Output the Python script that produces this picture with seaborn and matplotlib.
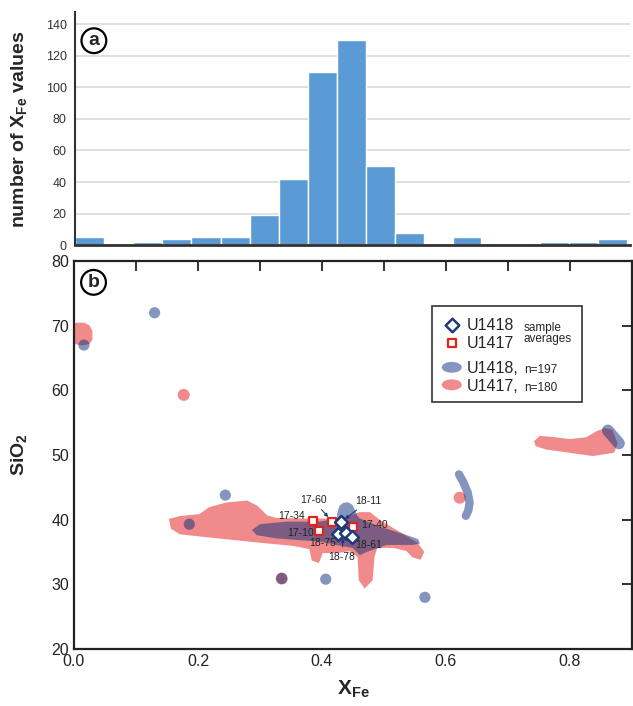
# XFe histogram (a) and SiO2 vs XFe density blobs (b)
import numpy as np
import pandas as pd
import seaborn as sns
import matplotlib.pyplot as plt
from matplotlib.patches import Rectangle, Ellipse

# ---- data ----
# (a) histogram of XFe values
bin_edges = [0.000, 0.047, 0.094, 0.141, 0.188, 0.236, 0.283, 0.330, 0.377, 0.424,
             0.471, 0.518, 0.565, 0.612, 0.659, 0.707, 0.754, 0.801, 0.848, 0.895]
bin_counts = [5, 0, 2, 4, 5, 5, 19, 42, 110, 130, 50, 8, 0, 5, 0, 0, 2, 2, 4]

# (b) outlines of the density fields (XFe, SiO2)
red_main_x = [0.155, 0.171, 0.203, 0.219, 0.246, 0.279, 0.295, 0.311, 0.327, 0.380, 0.418,
              0.440, 0.461, 0.477, 0.494, 0.526, 0.553, 0.563, 0.558, 0.547, 0.537, 0.515,
              0.488, 0.483, 0.480, 0.469, 0.461, 0.459, 0.445, 0.424, 0.400, 0.394, 0.385,
              0.381, 0.354, 0.300, 0.219, 0.171, 0.158]
red_main_y = [40.0, 40.4, 40.7, 41.8, 42.5, 42.8, 42.0, 40.5, 40.1, 40.0, 40.0,
              40.3, 41.0, 41.0, 39.7, 37.9, 36.3, 35.0, 34.0, 34.3, 35.3, 35.8,
              35.8, 34.3, 30.7, 29.6, 30.7, 34.3, 35.3, 35.0, 35.0, 33.5, 33.8,
              35.6, 36.1, 36.6, 37.4, 37.9, 38.7]
red_left_x = [-0.004, 0.004, 0.016, 0.024, 0.028, 0.028, 0.024, 0.013, 0.003, -0.004]
red_left_y = [69.9, 70.3, 70.3, 69.9, 69.1, 67.9, 67.3, 67.1, 67.3, 68.0]
red_right_x = [0.752, 0.775, 0.800, 0.827, 0.843, 0.856, 0.867, 0.875, 0.870, 0.837,
               0.800, 0.762, 0.746, 0.744]
red_right_y = [52.8, 52.6, 52.3, 52.6, 53.5, 54.0, 53.8, 51.8, 50.5, 50.0,
               50.5, 51.0, 51.5, 52.1]
blue_main_x = [0.287, 0.300, 0.343, 0.397, 0.424, 0.425, 0.428, 0.434, 0.442, 0.449,
               0.453, 0.457, 0.461, 0.494, 0.537, 0.555, 0.558, 0.547, 0.504, 0.472,
               0.461, 0.450, 0.397, 0.327, 0.295]
blue_main_y = [38.4, 39.3, 39.7, 39.7, 40.2, 41.2, 42.1, 42.6, 42.7, 42.3,
               41.5, 40.6, 40.2, 38.9, 37.6, 37.0, 36.3, 36.1, 36.1, 35.0,
               34.5, 35.6, 36.6, 37.1, 37.6]
blue_arc_x = [0.621, 0.628, 0.635, 0.638, 0.636, 0.632]
blue_arc_y = [47.0, 45.8, 44.2, 42.6, 41.4, 40.6]
blue_end_x = [0.861, 0.879]
blue_end_y = [53.8, 51.8]

# isolated analyses
red_dots_x = [0.177, 0.622, 0.335]
red_dots_y = [59.3, 43.4, 30.9]
blue_dots_x = [0.130, 0.244, 0.406, 0.566, 0.016, 0.186, 0.335]
blue_dots_y = [72.0, 43.8, 30.8, 28.0, 67.0, 39.3, 30.9]

# sample averages
u1417_names = ['17-34', '17-60', '17-10', '17-40']
u1417_x = [0.385, 0.416, 0.395, 0.450]
u1417_y = [39.8, 39.6, 38.3, 38.8]
u1418_names = ['18-11', '18-75', '18-78', '18-61']
u1418_x = [0.430, 0.426, 0.439, 0.449]
u1418_y = [39.6, 37.8, 38.0, 37.3]

# label layout: text position, and arrow tip (None = plain label)
label_layout = {
    '17-34': ((0.351, 40.5), None),
    '17-60': ((0.386, 43.0), (0.410, 40.4)),
    '17-10': ((0.365, 37.9), None),
    '17-40': ((0.484, 39.2), None),
    '18-11': ((0.475, 42.9), (0.437, 40.1)),
    '18-75': ((0.401, 36.4), None),
    '18-78': ((0.432, 34.3), (0.434, 37.1)),
    '18-61': ((0.476, 36.1), None),
}

# ---- style ----
sns.set_style("white")
plt.rcParams['font.family'] = ['Liberation Sans', 'DejaVu Sans']
plt.rcParams['mathtext.fontset'] = 'custom'
plt.rcParams['mathtext.rm'] = 'Liberation Sans'
plt.rcParams['mathtext.bf'] = 'Liberation Sans:bold'

BAR = '#5B9BD5'
RED = '#F18A8A'
BLUE = '#0A2F80'
BLUE_A = 0.5
RED_EDGE = '#E3221C'
NAVY = '#1F3A7A'

fig = plt.figure(figsize=(6.33, 7.06), dpi=100)
ax1 = fig.add_axes([0.1185, 0.6526, 0.877, 0.330])
ax2 = fig.add_axes([0.1169, 0.0807, 0.8815, 0.5496])

# ---- (a) histogram ----
centers = [(a + b) / 2 for a, b in zip(bin_edges[:-1], bin_edges[1:])]
sns.histplot(x=centers, weights=bin_counts, bins=bin_edges, ax=ax1,
             color=BAR, edgecolor='white', linewidth=1, alpha=1)
ax1.set_xlim(0, 0.9)
ax1.set_ylim(0, 147.5)
ax1.set_yticks(range(0, 141, 20))
ax1.set_xticks(np.arange(0.1, 0.85, 0.1))
ax1.set_xticklabels([])
ax1.tick_params(axis='x', direction='in', length=5, width=1.2, color='#333')
ax1.tick_params(axis='y', direction='out', length=4, width=1, color='#777',
                labelsize=9, labelcolor='#333', pad=2)
ax1.grid(axis='y', color='#d9d9d9', lw=1.2)
ax1.set_axisbelow(True)
for s in ['top', 'right']:
    ax1.spines[s].set_visible(False)
ax1.spines['left'].set_linewidth(1.5)
ax1.spines['left'].set_color('#333')
ax1.spines['bottom'].set_linewidth(2)
ax1.spines['bottom'].set_color('#333')
ax1.set_xlabel('')
ax1.set_ylabel('number of X$_{\\mathbf{Fe}}$ values', fontsize=14, fontweight='bold')
ax1.yaxis.set_label_coords(-0.081, 0.5)
ax1.text(0.034, 0.878, 'a', transform=ax1.transAxes, fontsize=14, fontweight='bold',
         ha='center', va='center',
         bbox=dict(boxstyle='circle,pad=0.2', fc='white', ec='black', lw=1.6))

# ---- (b) SiO2 vs XFe ----
ax2.fill(red_main_x, red_main_y, color=RED, lw=1.5, zorder=1)
ax2.fill(red_left_x, red_left_y, color=RED, lw=1.5, zorder=1)
ax2.fill(red_right_x, red_right_y, color=RED, lw=1.5, zorder=1)
sns.scatterplot(x=red_dots_x, y=red_dots_y, ax=ax2, s=75, color=RED,
                edgecolor='none', linewidth=0, zorder=1)

ax2.fill(blue_main_x, blue_main_y, color=BLUE, alpha=BLUE_A, lw=0, zorder=2)
ax2.plot(blue_arc_x, blue_arc_y, color=BLUE, alpha=BLUE_A, lw=6,
         solid_capstyle='round', solid_joinstyle='round', zorder=2)
ax2.plot(blue_end_x, blue_end_y, color=BLUE, alpha=BLUE_A, lw=8.5,
         solid_capstyle='round', zorder=2)
sns.scatterplot(x=blue_dots_x, y=blue_dots_y, ax=ax2, s=65, color=BLUE,
                alpha=BLUE_A, edgecolor='none', linewidth=0, zorder=2)

# sample averages
sns.scatterplot(x=u1417_x, y=u1417_y, ax=ax2, marker='s', s=34, color='white',
                edgecolor=RED_EDGE, linewidth=1.6, zorder=5)
sns.scatterplot(x=u1418_x, y=u1418_y, ax=ax2, marker='D', s=44, color='white',
                edgecolor=NAVY, linewidth=1.8, zorder=5)

for name in u1417_names + u1418_names:
    (tx, ty), tip = label_layout[name]
    if tip is None:
        ax2.text(tx, ty, name, fontsize=7.5, color='#222', ha='center', va='center', zorder=6)
    else:
        ax2.annotate(name, xy=tip, xytext=(tx, ty), fontsize=7.5, color='#222',
                     ha='center', va='center', zorder=6,
                     arrowprops=dict(arrowstyle='-|>', color=NAVY, lw=0.8,
                                     mutation_scale=5, shrinkA=1, shrinkB=0))

ax2.set_xlim(0, 0.9)
ax2.set_ylim(20, 80)
ax2.set_xticks([0.0, 0.2, 0.4, 0.6, 0.8])
ax2.set_xticklabels(['0.0', '0.2', '0.4', '0.6', '0.8'])
ax2.set_xticks([0.1, 0.3, 0.5, 0.7], minor=True)
ax2.set_yticks(range(20, 81, 10))
ax2.tick_params(which='both', direction='in', top=True, right=True, length=7,
                width=1.3, color='#222', labelsize=11.5, labelcolor='#222')
for s in ax2.spines.values():
    s.set_linewidth(1.6)
    s.set_color('#222')
ax2.set_ylabel('SiO$_\\mathbf{2}$', fontsize=14, fontweight='bold')
ax2.yaxis.set_label_coords(-0.079, 0.5)
ax2.set_xlabel('X$_{\\mathbf{Fe}}$', fontsize=15, fontweight='bold')
ax2.xaxis.set_label_coords(0.5, -0.075)
ax2.text(0.035, 0.945, 'b', transform=ax2.transAxes, fontsize=14, fontweight='bold',
         ha='center', va='center',
         bbox=dict(boxstyle='circle,pad=0.2', fc='white', ec='black', lw=1.6))

# legend box drawn by hand to get the mixed text sizes
T = ax2.transAxes
ax2.add_patch(Rectangle((0.641, 0.636), 0.270, 0.248, transform=T, fc='white',
                        ec='#333', lw=1.2, zorder=7))
ax2.scatter([0.677], [0.836], marker='D', s=48, c='white', edgecolors=NAVY,
            linewidths=1.8, transform=T, zorder=8)
ax2.scatter([0.677], [0.788], marker='s', s=36, c='white', edgecolors=RED_EDGE,
            linewidths=1.6, transform=T, zorder=8)
ax2.add_patch(Ellipse((0.677, 0.726), 0.036, 0.028, transform=T, fc=BLUE,
                      alpha=BLUE_A, lw=0, zorder=8))
ax2.add_patch(Ellipse((0.677, 0.681), 0.036, 0.028, transform=T, fc=RED,
                      lw=0, zorder=8))
ax2.text(0.704, 0.822, 'U1418', transform=T, fontsize=11.5, va='baseline', zorder=8)
ax2.text(0.704, 0.775, 'U1417', transform=T, fontsize=11.5, va='baseline', zorder=8)
ax2.text(0.806, 0.842, 'sample\naverages', transform=T, fontsize=8.5, va='top',
         linespacing=0.85, zorder=8)
ax2.text(0.704, 0.712, 'U1418,', transform=T, fontsize=11.5, va='baseline', zorder=8)
ax2.text(0.806, 0.712, 'n=197', transform=T, fontsize=8.5, va='baseline', zorder=8)
ax2.text(0.704, 0.666, 'U1417,', transform=T, fontsize=11.5, va='baseline', zorder=8)
ax2.text(0.806, 0.666, 'n=180', transform=T, fontsize=8.5, va='baseline', zorder=8)

fig.savefig('out.png', dpi=100)
